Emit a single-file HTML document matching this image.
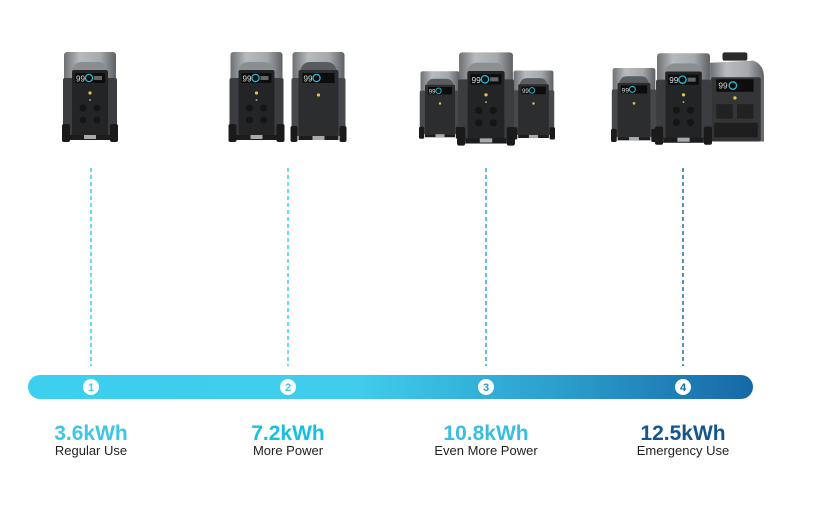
<!DOCTYPE html>
<html><head><meta charset="utf-8"><style>
body{margin:0;background:#fff;width:817px;height:500px;overflow:hidden;font-family:"Liberation Sans",sans-serif}
</style></head><body>
<svg width="817" height="500" xmlns="http://www.w3.org/2000/svg">
<defs>
<linearGradient id="bar" x1="0" x2="1"><stop offset="0" stop-color="#3dcfee"/><stop offset="0.45" stop-color="#40cdeb"/><stop offset="0.75" stop-color="#2a9bcb"/><stop offset="1" stop-color="#1669a6"/></linearGradient>
<linearGradient id="cap" x1="0" x2="1"><stop offset="0" stop-color="#6e7174"/><stop offset="0.3" stop-color="#b8bbbd"/><stop offset="0.7" stop-color="#a6a9ab"/><stop offset="1" stop-color="#5e6164"/></linearGradient>
<symbol id="main" viewBox="0 0 56 90">
<rect x="2" y="0" width="52" height="30" rx="3" fill="url(#cap)"/>
<rect x="1" y="26" width="54" height="58" rx="2" fill="#3b3d40"/>
<path d="M10 18 Q12 10 20 10 L36 10 Q44 10 46 18 L46 84 L10 84Z" fill="#8c8f92"/>
<rect x="10" y="18" width="36" height="66" rx="2" fill="#222426"/>
<rect x="13" y="21" width="30" height="10" fill="#0d0d0d"/>
<text x="14" y="29.5" font-size="8" fill="#ddd" font-family="Liberation Sans">99</text>
<circle cx="27" cy="26" r="3.6" fill="none" stroke="#2bb7cf" stroke-width="1.3"/>
<rect x="32" y="24" width="8" height="4" fill="#666"/>
<circle cx="28" cy="41" r="1.6" fill="#e6c14a"/>
<circle cx="28" cy="48" r="1" fill="#999"/>
<circle cx="21" cy="56" r="3.5" fill="#151515"/><circle cx="35" cy="56" r="3.5" fill="#151515"/>
<circle cx="21" cy="68" r="3.5" fill="#151515"/><circle cx="35" cy="68" r="3.5" fill="#151515"/>
<rect x="0" y="72" width="8" height="18" rx="2" fill="#1a1a1a"/><rect x="48" y="72" width="8" height="18" rx="2" fill="#1a1a1a"/>
<rect x="8" y="83" width="40" height="5" fill="#1c1c1c"/><rect x="22" y="83" width="12" height="4" fill="#aaa"/>
</symbol>
<symbol id="ext" viewBox="0 0 56 90">
<rect x="2" y="0" width="52" height="30" rx="3" fill="url(#cap)"/>
<rect x="1" y="26" width="54" height="58" rx="2" fill="#46484b"/>
<path d="M10 18 Q12 10 20 10 L36 10 Q44 10 46 18 L46 84 L10 84Z" fill="#5a5d60"/>
<rect x="8" y="18" width="40" height="66" rx="2" fill="#2b2d2f"/>
<rect x="12" y="21" width="32" height="10" fill="#0d0d0d"/>
<text x="13" y="29.5" font-size="8" fill="#ddd" font-family="Liberation Sans">99</text>
<circle cx="26" cy="26" r="3.6" fill="none" stroke="#2bb7cf" stroke-width="1.3"/>
<circle cx="28" cy="43" r="1.6" fill="#e6c14a"/>
<rect x="0" y="74" width="7" height="16" rx="2" fill="#1a1a1a"/><rect x="49" y="74" width="7" height="16" rx="2" fill="#1a1a1a"/>
<rect x="8" y="84" width="40" height="4" fill="#1c1c1c"/><rect x="22" y="84" width="12" height="4" fill="#aaa"/>
</symbol>
<symbol id="gen" viewBox="0 0 56 90">
<rect x="14" y="0" width="24" height="8" rx="2" fill="#2a2a2a"/>
<path d="M2 10 L44 8 Q54 12 54 24 L54 86 L2 86Z" fill="url(#cap)"/>
<rect x="3" y="24" width="48" height="62" rx="2" fill="#333537"/>
<rect x="8" y="26" width="36" height="12" fill="#0d0d0d"/>
<text x="10" y="35" font-size="8" fill="#ddd" font-family="Liberation Sans">99</text>
<circle cx="24" cy="32" r="3.6" fill="none" stroke="#2bb7cf" stroke-width="1.3"/>
<circle cx="26" cy="44" r="1.6" fill="#e6c14a"/>
<rect x="8" y="50" width="16" height="14" fill="#222"/><rect x="28" y="50" width="16" height="14" fill="#222"/>
<rect x="6" y="68" width="42" height="14" fill="#1e1e1e"/>
</symbol>
</defs>
<use href="#main" x="62" y="52" width="56" height="90"/>
<use href="#main" x="228" y="52" width="57" height="90"/>
<use href="#ext" x="290" y="52" width="57" height="90"/>
<use href="#ext" x="419" y="64" width="42" height="82" preserveAspectRatio="none"/>
<use href="#ext" x="512" y="64" width="43" height="82" preserveAspectRatio="none"/>
<use href="#main" x="457" y="52" width="58" height="94" preserveAspectRatio="none"/>
<use href="#ext" x="611" y="64" width="46" height="82" preserveAspectRatio="none"/>
<use href="#gen" x="708" y="52" width="58" height="94" preserveAspectRatio="none"/>
<use href="#main" x="655" y="52" width="57" height="94" preserveAspectRatio="none"/>
<g stroke-width="1.5" stroke-dasharray="4,3">
<line x1="91" y1="168" x2="91" y2="366" stroke="#3fcbe9"/>
<line x1="288" y1="168" x2="288" y2="366" stroke="#3fcbe9"/>
<line x1="486" y1="168" x2="486" y2="366" stroke="#2ea6d2"/>
<line x1="683" y1="168" x2="683" y2="366" stroke="#1a6ea9"/>
</g>
<rect x="28" y="375" width="725" height="24" rx="12" fill="url(#bar)"/>
<g fill="#fff"><circle cx="91" cy="387" r="8"/><circle cx="288" cy="387" r="8"/><circle cx="486" cy="387" r="8"/><circle cx="683" cy="387" r="8"/></g>
<g font-size="11" font-weight="bold" text-anchor="middle">
<text x="91" y="391" fill="#3dcfee">1</text><text x="288" y="391" fill="#3fcdeb">2</text><text x="486" y="391" fill="#2a9bcb">3</text><text x="683" y="391" fill="#1669a6">4</text>
</g>
<g font-size="21" font-weight="bold" text-anchor="middle">
<text x="91" y="440" fill="#3fc6e3">3.6kWh</text>
<text x="288" y="440" fill="#17bfe0">7.2kWh</text>
<text x="486" y="440" fill="#39bde0">10.8kWh</text>
<text x="683" y="440" fill="#15558e">12.5kWh</text>
</g>
<g font-size="13" text-anchor="middle" fill="#222">
<text x="91" y="455">Regular Use</text>
<text x="288" y="455">More Power</text>
<text x="486" y="455">Even More Power</text>
<text x="683" y="455">Emergency Use</text>
</g>
</svg>
</body></html>
